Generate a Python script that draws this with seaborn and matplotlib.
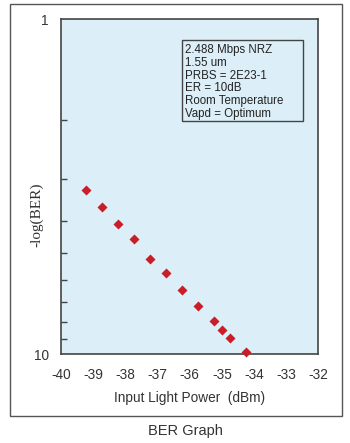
import matplotlib
matplotlib.use("Agg")
import matplotlib.pyplot as plt
import matplotlib.ticker as mticker
import pandas as pd
import seaborn as sns
from matplotlib.patches import Rectangle

# data
input_power_dbm = [-39.25, -38.75, -38.25, -37.75, -37.25, -36.75,
                   -36.25, -35.75, -35.25, -35.0, -34.75, -34.25]
neg_log_ber = [3.25, 3.63, 4.08, 4.55, 5.19, 5.72,
               6.44, 7.19, 7.97, 8.5, 8.94, 9.84]
x_ticks = [-40, -39, -38, -37, -36, -35, -34, -33, -32]
info_lines = ["2.488 Mbps NRZ", "1.55 um", "PRBS = 2E23-1", "ER = 10dB",
              "Room Temperature", "Vapd = Optimum"]

df = pd.DataFrame({"power": input_power_dbm, "ber": neg_log_ber})

sns.set_style("white")
plt.rcParams["font.family"] = ["Liberation Sans", "DejaVu Sans"]
text_col = "#333333"
spine_col = "#444444"

fig = plt.figure(figsize=(3.5, 4.43), dpi=100)
ax = fig.add_axes([0.1757, 0.2009, 0.7329, 0.7562])
ax.set_facecolor("#DCEEF7")

sns.scatterplot(data=df, x="power", y="ber", ax=ax, marker="D", s=26,
                color="#C81E28", linewidth=0, zorder=3, clip_on=False)

ax.set_yscale("log")
ax.set_ylim(10, 1)
ax.set_xlim(-40, -32)
ax.set_xticks(x_ticks)
ax.set_xticklabels([str(t) for t in x_ticks], fontsize=9.8, color=text_col)
ax.yaxis.set_major_locator(mticker.FixedLocator([1, 10]))
ax.yaxis.set_major_formatter(mticker.FixedFormatter(["1", "10"]))
ax.yaxis.set_minor_locator(mticker.FixedLocator([2, 3, 4, 5, 6, 7, 8, 9]))
ax.yaxis.set_minor_formatter(mticker.NullFormatter())
for lab in ax.get_yticklabels():
    lab.set_fontsize(9.8)
    lab.set_color(text_col)

ax.tick_params(axis="x", which="major", direction="in", length=4, width=1,
               color=spine_col, pad=10, top=False)
ax.tick_params(axis="y", which="major", direction="in", length=0, pad=9)
ax.yaxis.set_tick_params(which="minor", direction="in", length=4, width=1,
                         color=spine_col, right=False, left=True)

for sp in ax.spines.values():
    sp.set_color(spine_col)
    sp.set_linewidth(1.2)

ax.set_xlabel("Input Light Power  (dBm)", fontsize=9.8, color=text_col, labelpad=6.5)
ax.set_ylabel("-log(BER)", fontsize=11, color=text_col,
              family=["Liberation Serif", "DejaVu Serif"])
ax.yaxis.set_label_coords(-0.07, 0.415)

# info box: frame drawn wider than the text, like the reference
ax.add_patch(Rectangle((0.470, 0.6955), 0.4715, 0.2415, transform=ax.transAxes,
                       fill=False, edgecolor=spine_col, linewidth=1, zorder=4))
ax.text(0.482, 0.925, "\n".join(info_lines), transform=ax.transAxes,
        fontsize=8.3, color="#222222", va="top", ha="left", linespacing=1.08,
        zorder=4)

# outer frame and caption
fig.patches.append(Rectangle((10 / 350, 1 - 416 / 443), 332 / 350, 412 / 443,
                             transform=fig.transFigure, fill=False,
                             edgecolor="#555555", linewidth=1))
fig.text(185.7 / 350, 1 - 430.7 / 443, "BER Graph", ha="center", va="center",
         fontsize=10.5, color=text_col)

fig.savefig("out.png", dpi=100)
